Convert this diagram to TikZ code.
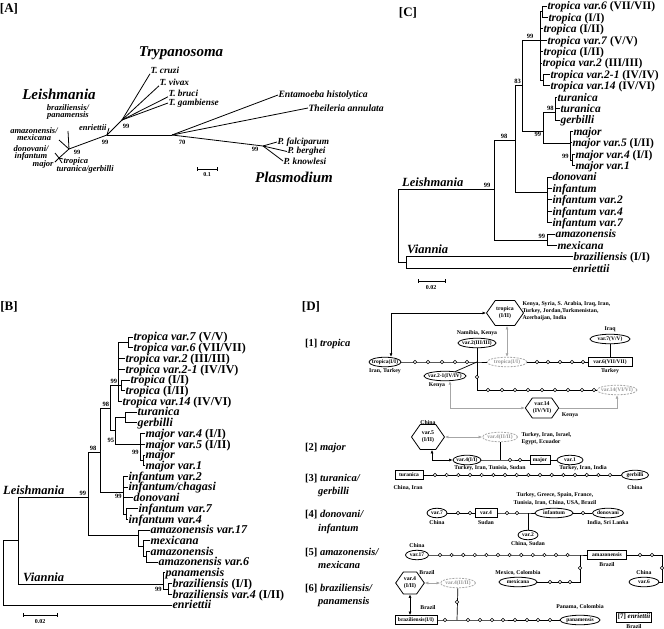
\documentclass[tikz,border=0pt]{standalone}
\usepackage{fontspec}
\setmainfont{Liberation Serif}
\usetikzlibrary{shapes.geometric,shapes.symbols,arrows.meta}
\newcommand{\myfs}[1]{\fontsize{#1}{#1}\selectfont}
\begin{document}
\begin{tikzpicture}[x=1pt,y=-1pt]
\tikzset{
 br/.style={line width=0.8pt},
 tipB/.style={font=\myfs{12}\bfseries\itshape, anchor=base west, inner sep=0.3pt},
 tipC/.style={font=\myfs{11.5}\bfseries\itshape, anchor=base west, inner sep=0.3pt},
 tipA/.style={font=\fontsize{8.5}{7.5}\selectfont\bfseries\itshape, inner sep=0.3pt},
 tipA2/.style={font=\myfs{9.3}\bfseries\itshape, inner sep=0.3pt, anchor=west},
 tipA3/.style={font=\myfs{9.7}\bfseries\itshape, inner sep=0.3pt, anchor=west},
 boot/.style={font=\myfs{6.5}\bfseries, inner sep=0.3pt},
 panel/.style={font=\myfs{13}\bfseries, inner sep=0pt},
 genus/.style={font=\myfs{15}\bfseries\itshape, inner sep=0pt},
 clade/.style={font=\myfs{12.5}\bfseries\itshape, inner sep=0pt, anchor=base west},
 sbar/.style={font=\myfs{6}\bfseries, inner sep=0pt},
 geo/.style={font=\fontsize{5.8}{7.2}\selectfont\bfseries, inner sep=0.3pt},
 sec/.style={font=\myfs{10.5}\bfseries, inner sep=0pt, anchor=base west},
 net/.style={line width=0.7pt},
 dot/.style={circle, draw, fill=white, inner sep=0pt, minimum size=3.4pt, line width=0.5pt},
 ell/.style={ellipse, draw, line width=0.8pt, inner sep=-3pt, minimum height=9.5pt, font=\myfs{5.5}\bfseries},
 dell/.style={ell, draw=gray!70, text=gray!80, dash pattern=on 2pt off 1.2pt},
 rbox/.style={rectangle, draw, line width=0.8pt, inner sep=1pt, minimum height=9pt, font=\myfs{5.5}\bfseries},
 hexa/.style={signal, signal to=west and east, signal pointer angle=110, draw, line width=0.8pt, inner sep=0.5pt, font=\fontsize{5.8}{7}\selectfont\bfseries, align=center},
 arr/.style={line width=0.6pt, {Latex[length=3.5pt,width=3pt]}-{Latex[length=3.5pt,width=3pt]}},
 garr/.style={arr, draw=gray!70},
 garr1/.style={line width=0.6pt, draw=gray!70, -{Latex[length=3.5pt,width=3pt]}},
}
\useasboundingbox (0,0) rectangle (664,629);
\fill[white] (0,0) rectangle (664,629);

% ================= Panel labels
\node[panel] (pA) at (9,9) {[A]};
\node[panel] (pB) at (9,307) {[B]};
\node[panel] (pC) at (408,13) {[C]};
\node[panel] (pD) at (311,307) {[D]};

% ================= Panel A
\node[genus] (gT) at (181,53) {Trypanosoma};
\node[genus] (gL) at (59,94) {Leishmania};
\node[genus] (gP) at (294,177) {Plasmodium};
\coordinate (aT) at (122,120);
\coordinate (a1) at (107,135);
\coordinate (a4) at (172,135);
\coordinate (aP) at (263,146);
\coordinate (a2) at (69,149);
\coordinate (a3) at (59,158);
\node[tipA2] (tcr) at (150,70) {T. cruzi};
\node[tipA2] (tvi) at (159,82) {T. vivax};
\node[tipA2] (tbr) at (168,93) {T. bruci};
\node[tipA2] (tga) at (168,103) {T. gambiense};
\node[tipA3] (ten) at (278,95) {Entamoeba histolytica};
\node[tipA3] (tth) at (308,108) {Theileria annulata};
\node[tipA2] (tpf) at (277,142) {P. falciparum};
\node[tipA2] (tpb) at (287,151.5) {P. berghei};
\node[tipA2] (tpk) at (283,161) {P. knowlesi};
\node[tipA, align=center] (tbp) at (68,112) {braziliensis/\\panamensis};
\node[tipA, anchor=east] (tenr) at (107,128) {enriettii};
\node[tipA, align=center] (tam) at (34,134) {amazonensis/\\mexicana};
\node[tipA, align=center] (tdi) at (31,153) {donovani/\\infantum};
\node[tipA, anchor=east] (tmj) at (54,164) {major};
\node[tipA, anchor=west] (ttr) at (63,161) {tropica};
\node[tipA, anchor=west] (ttg) at (56,169) {turanica/gerbilli};
\draw[br] (a1) -- (a4);
\draw[br] (a1) -- (aT);
\draw[br] (aT) -- (tcr.south west);
\draw[br] (aT) -- (tvi.south west);
\draw[br] (aT) -- (tbr.south west);
\draw[br] (aT) -- (tga.west);
\draw[br] (a4) -- (ten.west);
\draw[br] (a4) -- (tth.west);
\draw[br] (a4) -- (aP);
\draw[br] (aP) -- (tpf.west);
\draw[br] (aP) -- (tpb.west);
\draw[br] (aP) -- (tpk.west);
\draw[br] (a1) -- (109,128);
\draw[br] (a1) -- (a2);
\draw[br] (a2) -- (68,131);
\draw[br] (a2) -- (59,140);
\draw[br] (a2) -- (a3);
\draw[br] (a3) -- (55,153);
\draw[br] (a3) -- (55,162);
\draw[br] (a3) -- (63,159);
\draw[br] (a3) -- (62,163);
\node[boot] (ab1) at (126,126) {99};
\node[boot] (ab2) at (105,142) {99};
\node[boot] (ab3) at (182,142) {70};
\node[boot] (ab4) at (77,152) {99};
\node[boot] (ab5) at (255,149) {99};
\draw[br] (197,169) -- (217,169);
\draw[br] (197,167) -- (197,171);
\draw[br] (217,167) -- (217,171);
\node[sbar] (sA) at (207,175) {0.1};

% ================= Panel B  (base line = row y + 3.8)
\node[tipB] (b1) at (133,340.8) {tropica var.7 \textup{(V/V)}};
\node[tipB] (b2) at (133,351.5) {tropica var.6 \textup{(VII/VII)}};
\node[tipB] (b3) at (125,362.2) {tropica var.2 \textup{(III/III)}};
\node[tipB] (b4) at (125,373.0) {tropica var.2-1 \textup{(IV/IV)}};
\node[tipB] (b5) at (130,383.7) {tropica \textup{(I/I)}};
\node[tipB] (b6) at (125,394.4) {tropica \textup{(I/II)}};
\node[tipB] (b7) at (122,405.1) {tropica var.14 \textup{(IV/VI)}};
\node[tipB] (b8) at (137,415.8) {turanica};
\node[tipB] (b9) at (137,426.6) {gerbilli};
\node[tipB] (b10) at (145,437.3) {major var.4 \textup{(I/I)}};
\node[tipB] (b11) at (145,448.0) {major var.5 \textup{(I/II)}};
\node[tipB] (b12) at (145,458.7) {major};
\node[tipB] (b13) at (145,469.4) {major var.1};
\node[tipB] (b14) at (128,480.2) {infantum var.2};
\node[tipB] (b15) at (128,490.9) {infantum/chagasi};
\node[tipB] (b16) at (133,501.6) {donovani};
\node[tipB] (b17) at (138,512.3) {infantum var.7};
\node[tipB] (b18) at (128,523.0) {infantum var.4};
\node[tipB] (b19) at (150,533.8) {amazonensis var.17};
\node[tipB] (b20) at (150,544.5) {mexicana};
\node[tipB] (b21) at (150,555.2) {amazonensis};
\node[tipB] (b22) at (158,565.9) {amazonensis var.6};
\node[tipB] (b23) at (165,576.6) {panamensis};
\node[tipB] (b24) at (172,587.4) {braziliensis \textup{(I/I)}};
\node[tipB] (b25) at (172,598.1) {braziliensis var.4 \textup{(I/II)}};
\node[tipB] (b26) at (172,608.8) {enriettii};
\foreach \n/\d in {1/5,2/5,3/7,4/7,5/9,6/4,7/4,8/12,9/12,10/5,11/5,12/2,13/2,14/5,15/5,16/10,17/12,18/2,19/12,20/7,21/4,22/12,23/2,24/4,25/4,26/169}
  \draw[br] (b\n.base west) ++(0,-3.8) -- ++(-\d,0);
\draw[br] (128,337) -- (128,347.7);
\draw[br] (118,342.3) -- (128,342.3);
\draw[br] (118,342.3) -- (118,401.3);
\draw[br] (121,379.9) -- (121,390.6);
\draw[br] (110,385.2) -- (121,385.2);
\draw[br] (125,412) -- (125,422.8);
\draw[br] (115,417.4) -- (125,417.4);
\draw[br] (140,433.5) -- (140,460.3);
\draw[br] (143,454.9) -- (143,465.6);
\draw[br] (140,460.3) -- (143,460.3);
\draw[br] (115,444.2) -- (140,444.2);
\draw[br] (115,417.4) -- (115,444.2);
\draw[br] (110,430.8) -- (115,430.8);
\draw[br] (110,385.2) -- (110,430.8);
\draw[br] (100,408) -- (110,408);
\draw[br] (100,408) -- (100,492);
\draw[br] (100,492) -- (123,492);
\draw[br] (123,476.4) -- (123,513.9);
\draw[br] (126,508.5) -- (126,519.2);
\draw[br] (123,513.9) -- (126,513.9);
\draw[br] (88,452) -- (100,452);
\draw[br] (88,452) -- (88,535);
\draw[br] (88,535) -- (138,535);
\draw[br] (138,530) -- (138,546);
\draw[br] (138,546) -- (143,546);
\draw[br] (143,540.7) -- (143,556.8);
\draw[br] (143,556.8) -- (146,556.8);
\draw[br] (146,551.4) -- (146,562.1);
\draw[br] (18,497) -- (88,497);
\draw[br] (18,497) -- (18,584);
\draw[br] (18,584) -- (163,584);
\draw[br] (163,572.8) -- (163,589);
\draw[br] (163,589) -- (168,589);
\draw[br] (168,583.6) -- (168,594.3);
\draw[br] (3,540) -- (18,540);
\draw[br] (3,540) -- (3,605);
\node[boot, anchor=south east] (bb1) at (117.5,384) {99};
\node[boot, anchor=south east] (bb2) at (109.5,407) {98};
\node[boot, anchor=east] (bb3) at (114.5,440) {95};
\node[boot, anchor=east] (bb4) at (139,452) {99};
\node[boot, anchor=north east] (bb5) at (122,494) {99};
\node[boot, anchor=south] (bb6) at (93,451) {98};
\node[boot, anchor=south east] (bb7) at (86.5,496) {99};
\node[boot, anchor=north east] (bb8) at (162,587) {99};
\node[clade] (cLB) at (3,494) {Leishmania};
\node[clade] (cVB) at (23,581) {Viannia};
\draw[br] (23,615) -- (57,615);
\draw[br] (23,613) -- (23,617);
\draw[br] (57,613) -- (57,617);
\node[sbar] (sB) at (40,622) {0.02};

% ================= Panel C (base line = row y + 3.8)
\node[tipC] (c1) at (547,9.8) {tropica var.6 \textup{(VII/VII)}};
\node[tipC] (c2) at (548,21.2) {tropica \textup{(I/I)}};
\node[tipC] (c3) at (543,32.6) {tropica \textup{(I/II)}};
\node[tipC] (c4) at (547,44.0) {tropica var.7 \textup{(V/V)}};
\node[tipC] (c5) at (543,55.4) {tropica \textup{(I/II)}};
\node[tipC] (c6) at (542,66.8) {tropica var.2 \textup{(III/III)}};
\node[tipC] (c7) at (550,78.2) {tropica var.2-1 \textup{(IV/IV)}};
\node[tipC] (c8) at (550,89.6) {tropica var.14 \textup{(IV/VI)}};
\node[tipC] (c9) at (557,101.0) {turanica};
\node[tipC] (c10) at (560,112.4) {turanica};
\node[tipC] (c11) at (560,123.8) {gerbilli};
\node[tipC] (c12) at (573,135.2) {major};
\node[tipC] (c13) at (572,146.6) {major var.5 \textup{(I/II)}};
\node[tipC] (c14) at (575,158.0) {major var.4 \textup{(I/I)}};
\node[tipC] (c15) at (575,169.4) {major var.1};
\node[tipC] (c16) at (552,180.8) {donovani};
\node[tipC] (c17) at (552,192.2) {infantum};
\node[tipC] (c18) at (552,203.6) {infantum var.2};
\node[tipC] (c19) at (552,215.0) {infantum var.4};
\node[tipC] (c20) at (552,226.4) {infantum var.7};
\node[tipC] (c21) at (555,237.8) {amazonensis};
\node[tipC] (c22) at (557,249.2) {mexicana};
\node[tipC] (c23) at (573,260.6) {braziliensis \textup{(I/I)}};
\node[tipC] (c24) at (572,272.0) {enriettii};
\foreach \n/\d in {1/5,2/6,3/3,4/7,5/3,6/2,7/7,8/7,9/2,10/5,11/5,12/3,13/2,14/3,15/3,16/5,17/5,18/5,19/5,20/5,21/8,22/10,23/167,24/166}
  \draw[br] (c\n.base west) ++(0,-3.8) -- ++(-\d,0);
\draw[br] (542,6) -- (542,17.4);
\draw[br] (540,11.7) -- (542,11.7);
\draw[br] (540,11.7) -- (540,80.1);
\draw[br] (540,80.1) -- (543,80.1);
\draw[br] (543,74.4) -- (543,85.8);
\draw[br] (522,40) -- (540,40);
\draw[br] (522,40) -- (522,131);
\draw[br] (515,85) -- (522,85);
\draw[br] (522,131) -- (543,131);
\draw[br] (543,112) -- (543,143);
\draw[br] (543,112) -- (555,112);
\draw[br] (555,97.2) -- (555,120);
\draw[br] (543,143) -- (570,143);
\draw[br] (570,131.4) -- (570,160);
\draw[br] (570,160) -- (572,160);
\draw[br] (572,154.2) -- (572,165.6);
\draw[br] (515,85) -- (515,192);
\draw[br] (515,192) -- (547,192);
\draw[br] (547,177) -- (547,222.6);
\draw[br] (494,140) -- (515,140);
\draw[br] (494,140) -- (494,240);
\draw[br] (494,240) -- (547,240);
\draw[br] (547,234) -- (547,245.4);
\draw[br] (398,189) -- (494,189);
\draw[br] (398,189) -- (398,262.5);
\draw[br] (398,262.5) -- (406,262.5);
\draw[br] (406,256.8) -- (406,268.2);
\node[boot, anchor=south] (cb1) at (530,39) {99};
\node[boot, anchor=south] (cb2) at (517.5,84) {83};
\node[boot, anchor=north east] (cb3) at (541.5,132) {99};
\node[boot, anchor=south east] (cb4) at (554,111.5) {98};
\node[boot, anchor=east] (cb5) at (569,156) {99};
\node[boot, anchor=south] (cb6) at (504,139) {98};
\node[boot, anchor=south] (cb7) at (487,188) {99};
\node[boot, anchor=east] (cb8) at (545.5,236) {99};
\node[clade] (cLC) at (402,186) {Leishmania};
\node[clade] (cVC) at (407,253) {Viannia};
\draw[br] (418,281) -- (445,281);
\draw[br] (418,279) -- (418,283);
\draw[br] (445,279) -- (445,283);
\node[sbar] (sC) at (431,288) {0.02};

% ================= Panel D
% [1] tropica
\node[sec] (s1) at (305,346) {[1] \textit{tropica}};
\node[hexa, minimum width=37pt, minimum height=25pt] (h1) at (505,313) {tropica\\(I/II)};
\node[geo, anchor=north west, align=left] (g1) at (522,301) {Kenya, Syria, S. Arabia, Iraq, Iran,\\Turkey, Jordan,Turkmenistan,\\Azerbaijan, India};
\node[ell, minimum width=32pt] (e11) at (385,362) {tropica(I/I)};
\node[geo] (g11) at (385,371.5) {Iran, Turkey};
\node[geo] (g2) at (477,333) {Namibia, Kenya};
\node[ell, minimum width=38pt] (e2) at (477,343) {var.2(III/III)};
\node[geo] (g7) at (610,329) {Iraq};
\node[ell, minimum width=40pt] (e7) at (610,339) {var.7(V/V)};
\node[rbox, minimum width=44pt] (r6) at (610,362) {var.6(VII/VII)};
\node[geo] (g6) at (610,371.5) {Turkey};
\node[dell, minimum width=40pt] (de11) at (507,362) {tropica(I/I)};
\coordinate (j1) at (477,362);
\node[ell, minimum width=42pt] (e21) at (445,376) {var.2-1(IV/IV)};
\node[geo] (g21) at (437,385.5) {Kenya};
\coordinate (j2) at (477,390);
\node[dell, minimum width=40pt] (de14) at (617,390) {var.14(VI/VI)};
\node[hexa, minimum width=30pt, minimum height=20pt] (h14) at (542,408) {var.14\\(IV/VI)};
\node[geo] (g14) at (570,415) {Kenya};
\draw[net] (e11) -- (j1) -- (de11) -- (r6);
\draw[net] (e2) -- (j1);
\draw[net] (e7) -- (r6);
\draw[net] (e21) -- (j1);
\draw[net] (j1) -- (j2) -- (de14);
\draw[arr] ([xshift=6pt]e11.north) |- (h1.west);
\draw[garr] (de11.north |- h1.south) -- (de11.north);
\draw[garr] ([xshift=5pt]e21.south) |- (h14.west);
\draw[garr1] (h14.east) -| (de14.south);
\foreach \x [count=\i] in {415,428,442,455,467} \node[dot] (p1a\i) at (\x,362) {};
\foreach \x [count=\i] in {537,548,560,572,583} \node[dot] (p1b\i) at (\x,362) {};
\node[dot] (p1c) at (477,377) {};
\foreach \x [count=\i] in {488,502,515,528,542,555,568,582,594} \node[dot] (p1d\i) at (\x,390) {};

% [2] major
\node[sec] (s2) at (305,450) {[2] \textit{major}};
\node[geo] (g5) at (428,423) {China};
\node[hexa, minimum width=33pt, minimum height=25pt] (h5) at (428,437) {var.5\\(I/II)};
\node[dell, minimum width=35pt] (dv4) at (500,437) {var.4(II/II)};
\node[geo, anchor=north west, align=left] (g4a) at (521,432) {Turkey, Iran, Israel,\\Egypt, Ecuador};
\node[ell, minimum width=28pt] (v4) at (467,460) {var.4(I/I)};
\coordinate (j3) at (500,460);
\node[rbox, minimum width=20pt] (rmaj) at (540,460) {major};
\node[ell, minimum width=26pt] (v1) at (570,460) {var.1};
\node[geo] (g4b) at (490,468.5) {Turkey, Iran, Tunisia, Sudan};
\node[geo] (g1b) at (583,468.5) {Turkey, Iran, India};
\draw[garr] (h5.east) -- (dv4.west);
\draw[arr] ([xshift=4pt]h5.south) |- (v4.west);
\draw[net] (v4) -- (j3) -- (rmaj) -- (v1);
\draw[net] (dv4) -- (j3);
\node[dot] (p2a) at (510,460) {};
\node[dot] (p2b) at (520,460) {};

% [3] turanica/gerbilli
\node[sec] (s3) at (305,481) {[3] \textit{turanica/}};
\node[sec] (s3b) at (318,494) {\textit{gerbilli}};
\node[rbox, minimum width=28pt] (rtur) at (409,475) {turanica};
\node[ell, minimum width=27pt] (eger) at (635,475) {gerbilli};
\draw[net] (rtur) -- (eger);
\foreach \i in {0,...,15} \node[dot] (p3\i) at (435+11.67*\i,475) {};
\node[geo] (g3a) at (408,488) {China, Iran};
\node[geo] (g3b) at (635,488) {China};

% [4] donovani/infantum
\node[sec] (s4) at (305,517) {[4] \textit{donovani/}};
\node[sec] (s4b) at (318,531) {\textit{infantum}};
\node[geo, align=center] (g4c) at (555,499) {Turkey, Greece, Spain, France,\\Tunisia, Iran, China, USA, Brazil};
\node[ell, minimum width=20pt] (e47) at (437,513) {var.7};
\node[rbox, minimum width=22pt] (r44) at (486,513) {var.4};
\coordinate (j4) at (528,513);
\node[ell, minimum width=38pt] (einf) at (554,513) {infantum};
\node[ell, minimum width=31pt] (edon) at (608,513) {donovani};
\node[ell, minimum width=20pt] (e42) at (528,535) {var.2};
\draw[net] (e47) -- (r44) -- (j4) -- (einf) -- (edon);
\draw[net] (j4) -- (e42);
\foreach \x [count=\i] in {458,470,507,517,583} \node[dot] (p4\i) at (\x,513) {};
\node[geo] (g4d) at (437,522.5) {China};
\node[geo] (g4e) at (486,522.5) {Sudan};
\node[geo] (g4f) at (608,522.5) {India, Sri Lanka};
\node[geo] (g4g) at (528,543.5) {China, Sudan};

% [5] amazonensis/mexicana
\node[sec] (s5) at (305,555) {[5] \textit{amazonensis/}};
\node[sec] (s5b) at (318,568) {\textit{mexicana}};
\node[geo] (g5a) at (417,546) {China};
\node[ell, minimum width=23pt] (e17) at (417,555) {var.17};
\node[rbox, minimum width=39pt] (ramz) at (607,555) {amazonensis};
\coordinate (j5) at (580,555);
\coordinate (j6) at (580,582);
\node[ell, minimum width=38pt] (emex) at (518,582) {mexicana};
\coordinate (k1) at (662,555);
\coordinate (k2) at (662,582);
\node[ell, minimum width=30pt] (e6) at (644,582) {var.6};
\draw[net] (e17) -- (j5) -- (ramz);
\draw[net] (ramz) -- (k1) -- (k2) -- (e6);
\draw[net] (j5) -- (j6) -- (emex);
\foreach \i in {0,...,11} \node[dot] (p5\i) at (440+11.6*\i,555) {};
\node[dot] (p5m) at (580,568) {};
\foreach \x [count=\i] in {550,560,570} \node[dot] (p5x\i) at (\x,582) {};
\node[dot] (p5r1) at (640,555) {};
\node[dot] (p5r2) at (652,555) {};
\node[dot] (p5r3) at (662,568) {};
\node[geo] (g5b) at (518,573) {Mexico, Colombia};
\node[geo] (g5c) at (607,564.5) {Brazil};
\node[geo] (g5d) at (644,573) {China};

% [6] braziliensis/panamensis
\node[sec] (s6) at (305,591) {[6] \textit{braziliensis/}};
\node[sec] (s6b) at (318,604) {\textit{panamensis}};
\node[geo] (g6a) at (427,573) {Brazil};
\node[hexa, minimum width=28pt, minimum height=22pt] (h4b) at (410,583) {var.4\\(I/II)};
\node[dell, minimum width=35pt] (dv4b) at (458,583) {var.4(II/II)};
\node[rbox, minimum width=42pt] (rbraz) at (416,620) {braziliensis(I/I)};
\node[geo] (g6b) at (428,608) {Brazil};
\coordinate (j7) at (457,620);
\node[ell, minimum width=40pt] (epan) at (580,620) {panamensis};
\node[geo] (g6c) at (580,607) {Panama, Colombia};
\node[rbox, minimum width=33pt, minimum height=10pt, font=\myfs{7}\bfseries] (ren) at (634,617) {[7] \textit{enriettii}};
\node[geo] (g7a) at (634,626.5) {Brazil};
\draw[garr] (h4b.east) -- (dv4b.west);
\draw[arr] (h4b.south) -- (h4b.south |- rbraz.north);
\draw[net] (rbraz) -- (j7) -- (epan);
\draw[net] (dv4b) -- (j7);
\node[dot] (p6a) at (445,620) {};
\foreach \x [count=\i] in {468,480,492,503,515,527,538,550} \node[dot] (p6b\i) at (\x,620) {};
\node[dot] (p6c) at (457,602) {};
\end{tikzpicture}
\end{document}
